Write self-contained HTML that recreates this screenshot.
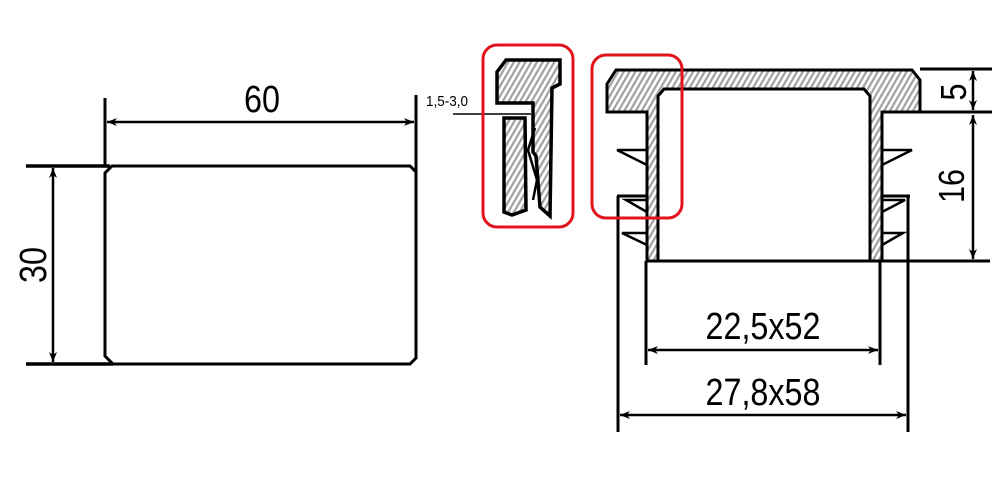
<!DOCTYPE html>
<html><head><meta charset="utf-8"><style>
html,body{margin:0;padding:0;background:#fff;width:1000px;height:488px;overflow:hidden}
svg{display:block}
text{font-family:"Liberation Sans",sans-serif;fill:#000}
</style></head><body>
<svg width="1000" height="488" viewBox="0 0 1000 488" xmlns="http://www.w3.org/2000/svg">
<defs>
<pattern id="h" width="5" height="5" patternUnits="userSpaceOnUse" patternTransform="rotate(30)">
<rect width="5" height="5" fill="#fff"/><rect width="2.2" height="5" fill="#a0a0a0"/>
</pattern>
<marker id="a" viewBox="0 0 10 10" refX="10" refY="5" markerWidth="11" markerHeight="10" orient="auto-start-reverse" markerUnits="userSpaceOnUse"><path d="M0,1 L10,5 L0,9 L3,5 Z" fill="#000"/></marker>
</defs>
<g stroke="#000" fill="none">
<path d="M112,166 L410,166 L416,172 L416,358 L410,364 L113,364 L105,356 L105,173 Z" stroke-width="3"/>
<line x1="105" y1="98" x2="105" y2="166" stroke-width="3"/>
<line x1="416" y1="95" x2="416" y2="172" stroke-width="3"/>
<line x1="107" y1="122" x2="414" y2="122" stroke-width="2.5" marker-start="url(#a)" marker-end="url(#a)"/>
<line x1="26" y1="166" x2="110" y2="166" stroke-width="3.5"/>
<line x1="26" y1="364" x2="113" y2="364" stroke-width="3.5"/>
<line x1="53" y1="168" x2="53" y2="362" stroke-width="2.5" marker-start="url(#a)" marker-end="url(#a)"/>
<path d="M497,72 L506,60 L560,60 L560,84 L552,88 L550,216 L540,207 L536,156 L533,152 L533,103 L497,103 Z" fill="url(#h)" stroke-width="3.5"/>
<path d="M504,118 L525,118 L526,210 L512,215 L504,212 Z" fill="url(#h)" stroke-width="3.5"/>
<path d="M535,128 L528,150 L537,180 L533,200" stroke-width="2.5"/>
<line x1="453" y1="114" x2="531" y2="114" stroke-width="1.5"/>
<path d="M607,84 L616,70 L912,70 L920,80 L920,112 L882,112 L882,261 L870,261 L870,96 L864,89 L664,89 L658,96 L658,261 L647,261 L647,112 L607,112 Z" fill="url(#h)" stroke-width="3"/>
<line x1="658" y1="96" x2="658" y2="261" stroke-width="3"/>
<line x1="870" y1="96" x2="870" y2="261" stroke-width="3"/>
<line x1="646" y1="261" x2="990" y2="261" stroke-width="3"/>
<path d="M647,150 L617,150 L647,165" stroke-width="2.5"/>
<path d="M617,196 L647,196" stroke-width="3"/>
<path d="M647,200 L626,200 L647,212" stroke-width="2.5"/>
<path d="M647,233 L622,233 L647,245" stroke-width="2.5"/>
<path d="M882,150 L912,150 L882,165" stroke-width="2.5"/>
<path d="M882,196 L910,196" stroke-width="3"/>
<path d="M882,200 L905,200 L882,212" stroke-width="2.5"/>
<path d="M882,233 L903,233 L882,245" stroke-width="2.5"/>
<line x1="920" y1="69" x2="992" y2="69" stroke-width="3"/>
<line x1="920" y1="112" x2="992" y2="112" stroke-width="3"/>
<line x1="973" y1="71" x2="973" y2="110" stroke-width="2.5" marker-start="url(#a)" marker-end="url(#a)"/>
<line x1="973" y1="115" x2="973" y2="259" stroke-width="2.5" marker-start="url(#a)" marker-end="url(#a)"/>
<line x1="618" y1="196" x2="618" y2="432" stroke-width="3"/>
<line x1="908" y1="196" x2="908" y2="432" stroke-width="3"/>
<line x1="646" y1="261" x2="646" y2="365" stroke-width="3"/>
<line x1="880" y1="261" x2="880" y2="365" stroke-width="3"/>
<line x1="648" y1="350" x2="878" y2="350" stroke-width="2.5" marker-start="url(#a)" marker-end="url(#a)"/>
<line x1="620" y1="415" x2="906" y2="415" stroke-width="2.5" marker-start="url(#a)" marker-end="url(#a)"/>
<rect x="483" y="45" width="90" height="182" rx="14" stroke="#e0141a" stroke-width="3"/>
<rect x="592" y="55" width="90" height="163" rx="14" stroke="#e0141a" stroke-width="3"/>
</g>
<text transform="translate(262,112) scale(0.85,1)" font-size="38" text-anchor="middle">60</text>
<text transform="translate(46,265) rotate(-90) scale(0.85,1)" font-size="38" text-anchor="middle">30</text>
<text transform="translate(426,106) scale(0.9,1)" font-size="15">1,5-3,0</text>
<text transform="translate(966,92) rotate(-90) scale(0.85,1)" font-size="36" text-anchor="middle">5</text>
<text transform="translate(964,186) rotate(-90) scale(0.85,1)" font-size="36" text-anchor="middle">16</text>
<text transform="translate(763,339) scale(0.85,1)" font-size="38" text-anchor="middle">22,5x52</text>
<text transform="translate(763,405) scale(0.85,1)" font-size="38" text-anchor="middle">27,8x58</text>
</svg>
</body></html>
